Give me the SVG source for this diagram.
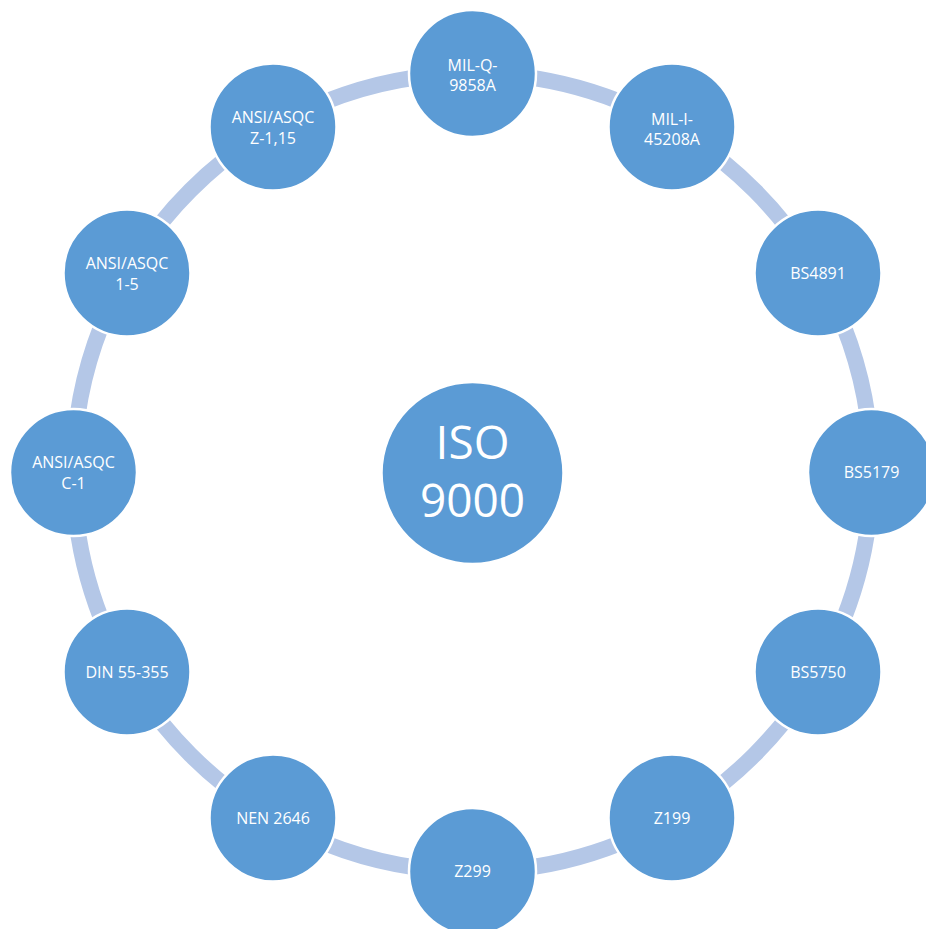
<svg xmlns="http://www.w3.org/2000/svg" width="926" height="929" viewBox="0 0 926 929">
<style>
.n{fill:#5B9BD5;stroke:#FFFFFF;stroke-width:2.5}
.t{font-family:"Open Sans","Liberation Sans",sans-serif;font-size:16px;fill:#FFFFFF;text-anchor:middle}
.big{font-family:"Open Sans","Liberation Sans",sans-serif;font-size:46px;fill:#FFFFFF;text-anchor:middle}
</style>
<rect width="926" height="929" fill="#FFFFFF"/>
<g id="connectors">
<circle cx="472.5" cy="472.5" r="399" fill="none" stroke="#B4C7E7" stroke-width="16"/>
</g>
<g id="iso9000"><circle class="n" cx="472.5" cy="473" r="91"/><text class="big" x="472.5" y="459">ISO</text><text class="big" x="472.5" y="517">9000</text></g>
<g id="mil-q"><circle class="n" cx="472.5" cy="73.5" r="63.5"/><text class="t" x="472.5" y="71">MIL-Q-</text><text class="t" x="472.5" y="91">9858A</text></g>
<g id="mil-i"><circle class="n" cx="672" cy="127" r="63.5"/><text class="t" x="672" y="124.5">MIL-I-</text><text class="t" x="672" y="144.5">45208A</text></g>
<g id="bs4891"><circle class="n" cx="818" cy="273" r="63.5"/><text class="t" x="818" y="279">BS4891</text></g>
<g id="bs5179"><circle class="n" cx="871.5" cy="472.5" r="63.5"/><text class="t" x="871.5" y="478">BS5179</text></g>
<g id="bs5750"><circle class="n" cx="818" cy="672" r="63.5"/><text class="t" x="818" y="678">BS5750</text></g>
<g id="z199"><circle class="n" cx="672" cy="818" r="63.5"/><text class="t" x="672" y="824">Z199</text></g>
<g id="z299"><circle class="n" cx="472.5" cy="871.5" r="63.5"/><text class="t" x="472.5" y="877">Z299</text></g>
<g id="nen2646"><circle class="n" cx="273" cy="818" r="63.5"/><text class="t" x="273" y="824">NEN 2646</text></g>
<g id="din"><circle class="n" cx="127" cy="672" r="63.5"/><text class="t" x="127" y="678">DIN 55-355</text></g>
<g id="ansi-c1"><circle class="n" cx="73.5" cy="472.5" r="63.5"/><text class="t" x="73.5" y="468">ANSI/ASQC</text><text class="t" x="73.5" y="489">C-1</text></g>
<g id="ansi-15"><circle class="n" cx="127" cy="273" r="63.5"/><text class="t" x="127" y="269">ANSI/ASQC</text><text class="t" x="127" y="290">1-5</text></g>
<g id="ansi-z"><circle class="n" cx="273" cy="127" r="63.5"/><text class="t" x="273" y="123">ANSI/ASQC</text><text class="t" x="273" y="144">Z-1,15</text></g>
</svg>
